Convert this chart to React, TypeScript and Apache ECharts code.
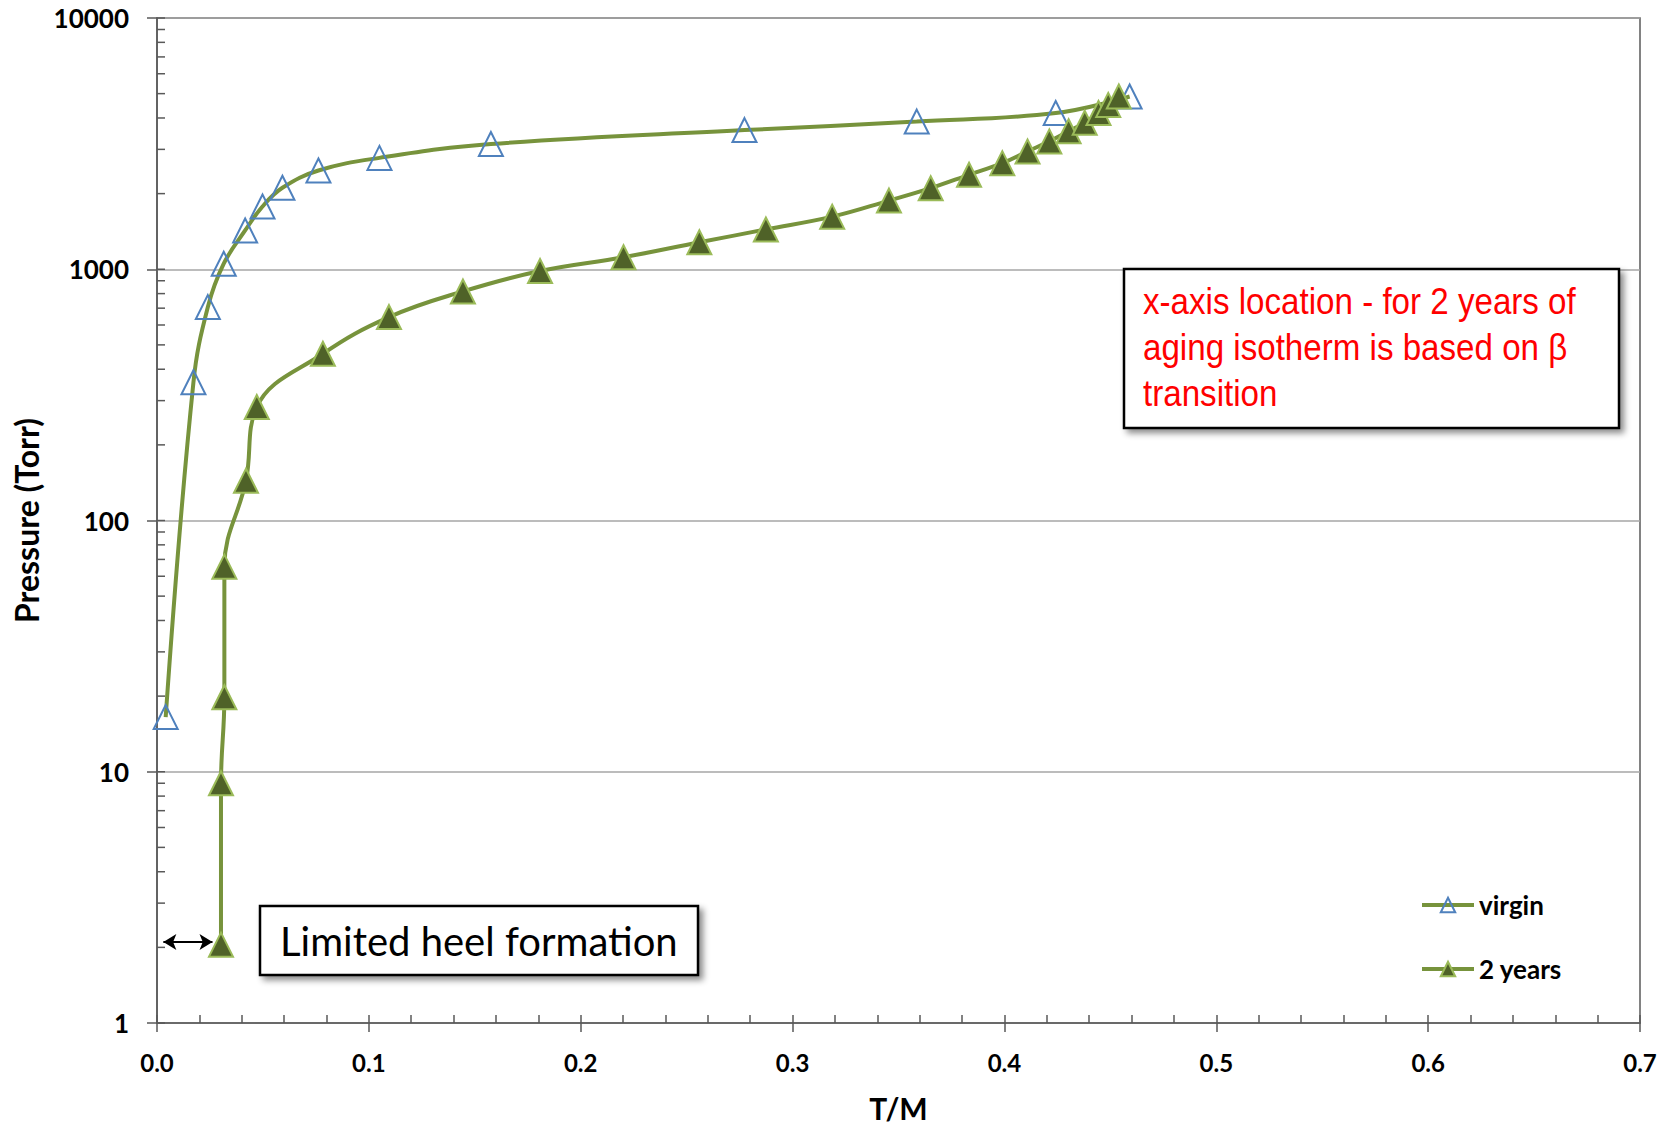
import React, { useEffect, useRef } from 'react';
import * as echarts from 'echarts';

// ---- data ----
const seriesNames = ['virgin', '2 years'];

const virginTM = [0.0041, 0.0172, 0.024, 0.0315, 0.0416, 0.0498, 0.0592, 0.0762, 0.105, 0.1576, 0.2773, 0.3586, 0.4242, 0.4591];
const virginP = [16.5, 355, 707, 1052, 1427, 1778, 2110, 2472, 2775, 3150, 3580, 3870, 4185, 4870];

const agedTM = [0.0302, 0.0302, 0.0318, 0.0318, 0.042, 0.0471, 0.0783, 0.1095, 0.1444, 0.1808, 0.2202, 0.256, 0.2874, 0.3187, 0.3455, 0.3652, 0.3833, 0.399, 0.4109, 0.4212, 0.4303, 0.4379, 0.4444, 0.449, 0.454];
const agedP = [2.05, 9.0, 19.8, 65.5, 144, 283, 461, 645, 816, 984, 1116, 1280, 1440, 1619, 1876, 2103, 2377, 2644, 2944, 3227, 3541, 3830, 4186, 4510, 4870];

// y-axis inner tick positions (log scale: 1..9 per decade)
const yTickValues = [
  1, 2, 3, 4, 5, 6, 7, 8, 9,
  10, 20, 30, 40, 50, 60, 70, 80, 90,
  100, 200, 300, 400, 500, 600, 700, 800, 900,
  1000, 2000, 3000, 4000, 5000, 6000, 7000, 8000, 9000,
  10000,
];

const heelArrowTM = [0.003, 0.0262];
const heelArrowP = 2.1;

const annotationMain = 'x-axis location - for 2 years of\naging isotherm is based on \u03b2\ntransition';
const annotationHeel = 'Limited heel formation';

const LINE = '#77933C';
const AXIS = '#595959';
const LABEL_FONT = 'Lato, "Noto Sans", sans-serif';

export default function App() {
  const ref = useRef<HTMLDivElement>(null);

  useEffect(() => {
    document.body.style.margin = '0';
    const chart = echarts.init(ref.current as HTMLDivElement, null, { renderer: 'svg' });

    const axisLabel = {
      fontFamily: LABEL_FONT,
      fontWeight: 'bold' as const,
      color: '#000',
    };

    const option: any = {
      animation: false,
      backgroundColor: '#fff',
      grid: {
        left: 157,
        right: 35,
        top: 18,
        bottom: 104,
        show: true,
        borderColor: AXIS,
        borderWidth: 1.5,
        backgroundColor: 'transparent',
        outerBoundsMode: 'none',
      },
      legend: {
        data: seriesNames,
        orient: 'vertical',
        left: 1415,
        top: 887,
        itemWidth: 52,
        itemHeight: 18,
        itemGap: 38,
        lineStyle: { width: 4 },
        textStyle: {
          fontFamily: LABEL_FONT,
          fontWeight: 'bold',
          fontSize: 26,
          color: '#000',
        },
      },
      xAxis: [
        {
          type: 'value',
          min: 0,
          max: 0.7,
          interval: 0.1,
          position: 'bottom',
          axisLine: { show: true, lineStyle: { color: AXIS, width: 1.5 } },
          axisTick: { show: true, inside: false, length: 9, lineStyle: { color: AXIS, width: 1.5 } },
          axisLabel: { ...axisLabel, fontSize: 24, margin: 27, formatter: (v: number) => v.toFixed(1) },
          splitLine: { show: false },
          name: 'T/M',
          nameLocation: 'middle',
          nameGap: 70,
          nameTextStyle: { fontFamily: LABEL_FONT, fontWeight: 'bold', fontSize: 30, color: '#000' },
        },
        {
          type: 'value',
          min: 0,
          max: 0.7,
          interval: 0.1,
          position: 'bottom',
          axisLine: { show: false },
          axisTick: { show: true, inside: true, length: 8, lineStyle: { color: AXIS, width: 1.5 } },
          minorTick: { show: true, splitNumber: 5, length: 8, lineStyle: { color: AXIS, width: 1.5 } },
          axisLabel: { show: false },
          splitLine: { show: false },
        },
      ],
      yAxis: {
        type: 'log',
        logBase: 10,
        min: 1,
        max: 10000,
        axisLine: { show: true, lineStyle: { color: AXIS, width: 1.5 } },
        axisTick: { show: true, inside: false, length: 10, lineStyle: { color: AXIS, width: 1.5 } },
        axisLabel: { ...axisLabel, fontSize: 26, margin: 28, formatter: (v: number) => String(Math.round(v)) },
        splitLine: { show: true, lineStyle: { color: '#A6A6A6', width: 1.5 } },
        name: 'Pressure (Torr)',
        nameLocation: 'middle',
        nameRotate: 90,
        nameGap: 113,
        nameTextStyle: { fontFamily: LABEL_FONT, fontWeight: 'bold', fontSize: 32, color: '#000' },
      },
      series: [
        {
          name: seriesNames[0],
          type: 'line',
          xAxisIndex: 0,
          data: virginTM.map((x, i) => [x, virginP[i]]),
          smooth: 0.4,
          symbol: 'triangle',
          symbolSize: 24,
          lineStyle: { color: LINE, width: 4 },
          itemStyle: { color: 'rgba(255,255,255,0)', borderColor: '#4F81BD', borderWidth: 2 },
          z: 3,
        },
        {
          name: seriesNames[1],
          type: 'line',
          xAxisIndex: 0,
          data: agedTM.map((x, i) => [x, agedP[i]]),
          smooth: 0.4,
          symbol: 'triangle',
          symbolSize: 24,
          lineStyle: { color: LINE, width: 4 },
          itemStyle: { color: '#4F6228', borderColor: '#9BBB59', borderWidth: 2 },
          z: 4,
          markLine: {
            silent: true,
            symbol: ['arrow', 'arrow'],
            symbolSize: [12, 13],
            label: { show: false },
            lineStyle: { color: '#000', width: 2, type: 'solid' },
            data: [[{ coord: [heelArrowTM[0], heelArrowP] }, { coord: [heelArrowTM[1], heelArrowP] }]],
          },
        },
        {
          type: 'custom',
          silent: true,
          clip: false,
          xAxisIndex: 0,
          z: 1,
          data: yTickValues.map((v) => [0, v]),
          encode: { x: 0, y: 1 },
          renderItem: (_params: any, api: any) => {
            const p = api.coord([api.value(0), api.value(1)]);
            return {
              type: 'line',
              shape: { x1: p[0], y1: p[1], x2: p[0] + 8, y2: p[1] },
              style: { stroke: AXIS, lineWidth: 1.5 },
            };
          },
        },
      ],
      graphic: [
        {
          type: 'rect',
          z: 10,
          shape: { x: 1124, y: 269, width: 495, height: 159 },
          style: {
            fill: '#fff',
            stroke: '#000',
            lineWidth: 2.5,
            shadowBlur: 6,
            shadowOffsetX: 4,
            shadowOffsetY: 4,
            shadowColor: 'rgba(0,0,0,0.45)',
          },
        },
        {
          type: 'text',
          z: 11,
          x: 1143,
          y: 278,
          scaleX: 0.896,
          style: {
            text: annotationMain,
            fill: '#FF0000',
            fontFamily: '"Liberation Sans", Arial, sans-serif',
            fontSize: 37,
            lineHeight: 46,
            verticalAlign: 'top',
            align: 'left',
          },
        },
        {
          type: 'rect',
          z: 10,
          shape: { x: 260, y: 906, width: 438, height: 69 },
          style: {
            fill: '#fff',
            stroke: '#000',
            lineWidth: 2.5,
            shadowBlur: 6,
            shadowOffsetX: 4,
            shadowOffsetY: 4,
            shadowColor: 'rgba(0,0,0,0.45)',
          },
        },
        {
          type: 'text',
          z: 11,
          x: 280,
          y: 941,
          style: {
            text: annotationHeel,
            fill: '#000',
            fontFamily: 'Lato, "Noto Sans", sans-serif',
            fontSize: 40,
            verticalAlign: 'middle',
            align: 'left',
          },
        },
      ],
    };

    chart.setOption(option);
    return () => chart.dispose();
  }, []);

  return <div ref={ref} style={{ width: 1675, height: 1127 }} />;
}
